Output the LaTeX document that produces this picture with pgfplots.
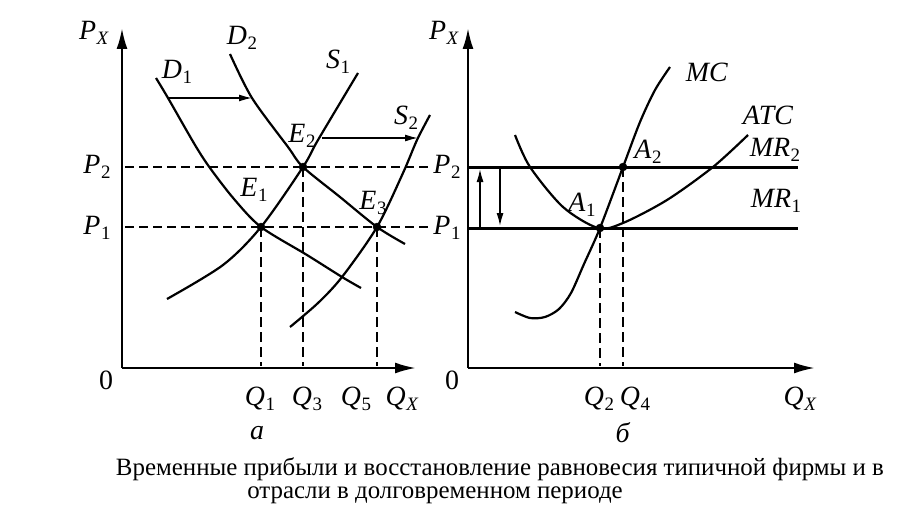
\documentclass[border=0pt]{standalone}
\usepackage{fontspec}
\setmainfont{Liberation Serif}
\usepackage{pgfplots}
\pgfplotsset{compat=1.18}
\usetikzlibrary{arrows.meta}
\newcommand{\lab}{\fontsize{28}{30}\selectfont}
\newcommand{\subs}[2]{\textit{#1}\kern0.02em\raisebox{-0.35ex}{\fontsize{19}{19}\selectfont #2}}
\begin{document}
\begin{tikzpicture}
\begin{axis}[
  scale only axis, width=905bp, height=518bp,
  xmin=0, xmax=905, ymin=0, ymax=518, y dir=reverse,
  hide axis, clip=false,
  every axis plot/.append style={black},
]
% canvas
\addplot[draw=none] coordinates {(0,0) (905,518)};

% ---------------- left panel ----------------
\addplot[line width=2.4bp, -{Latex[length=21bp,width=11bp]}] coordinates {(122,368) (122,28)};
\addplot[line width=2.4bp, -{Latex[length=21bp,width=11bp]}] coordinates {(122,368) (416,368)};
% dashed guides
\addplot[line width=1.8bp, dash pattern=on 9bp off 5bp] coordinates {(125,167) (432,167)};
\addplot[line width=1.8bp, dash pattern=on 9bp off 5bp] coordinates {(125,227) (432,227)};
\addplot[line width=1.8bp, dash pattern=on 10bp off 5bp] coordinates {(261,227) (261,366)};
\addplot[line width=1.8bp, dash pattern=on 10bp off 5bp] coordinates {(303,167) (303,366)};
\addplot[line width=1.8bp, dash pattern=on 10bp off 5bp] coordinates {(377,227) (377,366)};
% D1
\addplot[line width=2.2bp, smooth] coordinates {(156,78) (168,98) (195,145) (210,168) (234,199) (261,227) (307,255) (342,277) (361,288)};
% D2
\addplot[line width=2.2bp, smooth] coordinates {(230,54) (252,98) (288,147) (303,167) (340,197) (377,227) (405,244)};
% S1
\addplot[line width=2.2bp, smooth] coordinates {(167,299) (223,265) (261,227) (303,167) (318,140) (358,73)};
% S2
\addplot[line width=2.2bp, smooth] coordinates {(290,327) (318,303) (342,277) (377,227) (403,173) (417,140) (430,115)};
% shift arrows
\addplot[line width=1.5bp, -{Latex[length=13bp,width=7bp]}] coordinates {(168,98) (252,98)};
\addplot[line width=1.5bp, -{Latex[length=13bp,width=7bp]}] coordinates {(322,138) (418,138)};
% equilibria
\addplot[only marks, mark=*, mark size=4bp] coordinates {(261,227) (303,167) (377,227)};

% ---------------- right panel ----------------
\addplot[line width=2.4bp, -{Latex[length=21bp,width=11bp]}] coordinates {(468,368) (468,28)};
\addplot[line width=2.4bp, -{Latex[length=21bp,width=11bp]}] coordinates {(468,368) (815,368)};
% MR lines
\addplot[line width=3bp] coordinates {(468,167) (798,167)};
\addplot[line width=3bp] coordinates {(468,228) (798,228)};
% dashed
\addplot[line width=1.8bp, dash pattern=on 10bp off 5bp] coordinates {(600,228) (600,366)};
\addplot[line width=1.8bp, dash pattern=on 10bp off 5bp] coordinates {(623,167) (623,366)};
% ATC
\addplot[line width=2.2bp, smooth] coordinates {(515,135) (530,167) (563,207) (598,228) (623,223) (667,200) (713,167) (748,135)};
% MC
\addplot[line width=2.2bp, smooth] coordinates {(515,312) (530,318) (545,317) (559,309) (571,293) (584,264) (600,228) (623,167) (640,122) (655,90) (670,67)};
% price arrows
\addplot[line width=1.5bp, -{Latex[length=13bp,width=7bp]}] coordinates {(480,228) (480,169)};
\addplot[line width=1.5bp, -{Latex[length=13bp,width=7bp]}] coordinates {(500,167) (500,226)};
% points
\addplot[only marks, mark=*, mark size=4bp] coordinates {(600,228) (623,167)};

% ---------------- labels ----------------
\node[font=\lab] at (axis cs:94,33) {\subs{P}{\textit{X}}};
\node[font=\lab] at (axis cs:97,167) {\subs{P}{2}};
\node[font=\lab] at (axis cs:97,228) {\subs{P}{1}};
\node[font=\lab] at (axis cs:106,380) {0};
\node[font=\lab] at (axis cs:177,72) {\subs{D}{1}};
\node[font=\lab] at (axis cs:242,38) {\subs{D}{2}};
\node[font=\lab] at (axis cs:338,62) {\subs{S}{1}};
\node[font=\lab] at (axis cs:406,118) {\subs{S}{2}};
\node[font=\lab] at (axis cs:302,136) {\subs{E}{2}};
\node[font=\lab] at (axis cs:254,190) {\subs{E}{1}};
\node[font=\lab] at (axis cs:373,203) {\subs{E}{3}};
\node[font=\lab] at (axis cs:260,399) {\subs{Q}{1}};
\node[font=\lab] at (axis cs:307,399) {\subs{Q}{3}};
\node[font=\lab] at (axis cs:356,399) {\subs{Q}{5}};
\node[font=\lab] at (axis cs:402,399) {\subs{Q}{\textit{X}}};
\node[font=\lab] at (axis cs:257,433) {\textit{а}};

\node[font=\lab] at (axis cs:444,33) {\subs{P}{\textit{X}}};
\node[font=\lab] at (axis cs:447,167) {\subs{P}{2}};
\node[font=\lab] at (axis cs:447,228) {\subs{P}{1}};
\node[font=\lab] at (axis cs:452,380) {0};
\node[font=\lab] at (axis cs:707,72) {\textit{MC}};
\node[font=\lab] at (axis cs:768,115) {\textit{ATC}};
\node[font=\lab] at (axis cs:775,150) {\subs{MR}{2}};
\node[font=\lab] at (axis cs:776,201) {\subs{MR}{1}};
\node[font=\lab] at (axis cs:648,152) {\subs{A}{2}};
\node[font=\lab] at (axis cs:582,205) {\subs{A}{1}};
\node[font=\lab] at (axis cs:599,399) {\subs{Q}{2}};
\node[font=\lab] at (axis cs:635,399) {\subs{Q}{4}};
\node[font=\lab] at (axis cs:800,399) {\subs{Q}{\textit{X}}};
\node[font=\lab] at (axis cs:623,433) {\textit{б}};

% caption
\node[font=\fontsize{25}{26}\selectfont, inner sep=0pt] at (axis cs:500,469) {Временные прибыли и восстановление равновесия типичной фирмы и в};
\node[font=\fontsize{25}{26}\selectfont, inner sep=0pt] at (axis cs:435,495) {отрасли в долговременном периоде};
\end{axis}
\end{tikzpicture}
\end{document}
